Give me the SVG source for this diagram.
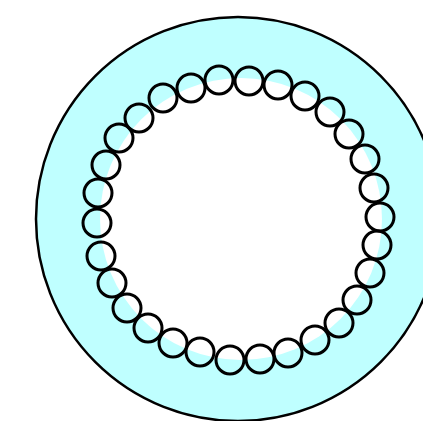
<svg xmlns="http://www.w3.org/2000/svg" width="423" height="421" viewBox="0 0 423 421">
<style>
.outer{fill:#bfffff;stroke:#000;stroke-width:2.5}
.inner{fill:#fff;stroke:none}
.bead{fill:none;stroke:#000;stroke-width:3}
</style>
<g id="outer-ring"><circle class="outer" cx="238" cy="219" r="202"/></g>
<g id="core"><circle class="inner" cx="241" cy="219" r="141"/></g>
<g id="beads">
<circle class="bead" cx="219" cy="80" r="14"/>
<circle class="bead" cx="249" cy="81" r="14"/>
<circle class="bead" cx="278" cy="85" r="14"/>
<circle class="bead" cx="305" cy="96" r="14"/>
<circle class="bead" cx="330" cy="112" r="14"/>
<circle class="bead" cx="349" cy="134" r="14"/>
<circle class="bead" cx="365" cy="159" r="14"/>
<circle class="bead" cx="374" cy="188" r="14"/>
<circle class="bead" cx="380" cy="217" r="14"/>
<circle class="bead" cx="377" cy="245" r="14"/>
<circle class="bead" cx="370" cy="273" r="14"/>
<circle class="bead" cx="357" cy="300" r="14"/>
<circle class="bead" cx="339" cy="323" r="14"/>
<circle class="bead" cx="315" cy="340" r="14"/>
<circle class="bead" cx="288" cy="353" r="14"/>
<circle class="bead" cx="260" cy="359" r="14"/>
<circle class="bead" cx="230" cy="360" r="14"/>
<circle class="bead" cx="200" cy="352" r="14"/>
<circle class="bead" cx="173" cy="343" r="14"/>
<circle class="bead" cx="148" cy="328" r="14"/>
<circle class="bead" cx="127" cy="308" r="14"/>
<circle class="bead" cx="112" cy="283" r="14"/>
<circle class="bead" cx="101" cy="256" r="14"/>
<circle class="bead" cx="97" cy="223" r="14"/>
<circle class="bead" cx="98" cy="193" r="14"/>
<circle class="bead" cx="106" cy="165" r="14"/>
<circle class="bead" cx="119" cy="138" r="14"/>
<circle class="bead" cx="139" cy="118" r="14"/>
<circle class="bead" cx="163" cy="98" r="14"/>
<circle class="bead" cx="191" cy="88" r="14"/>
</g>
</svg>
